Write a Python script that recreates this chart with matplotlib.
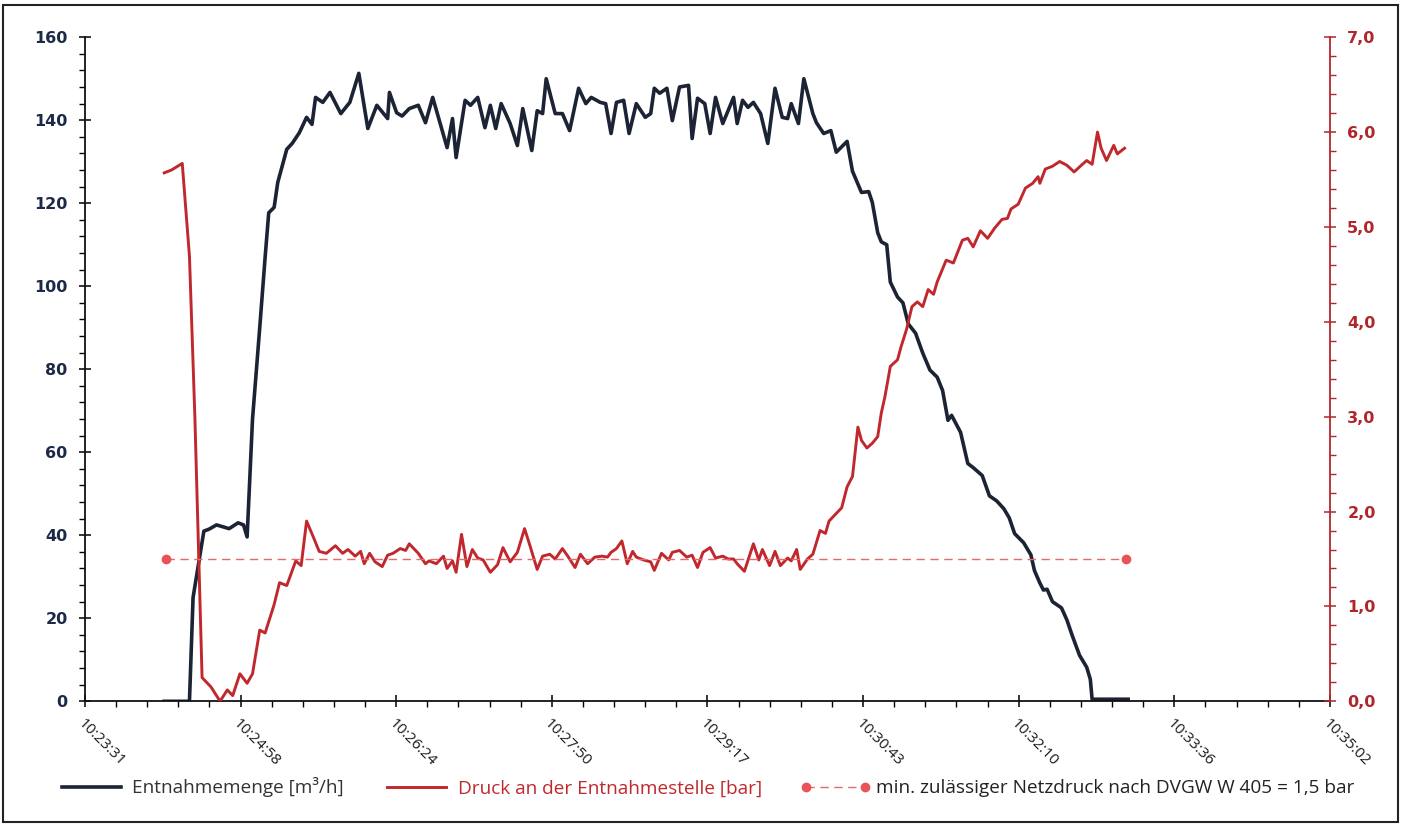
import matplotlib
matplotlib.use("Agg")
import matplotlib.pyplot as plt
from matplotlib.ticker import AutoMinorLocator, FixedLocator, FuncFormatter
from matplotlib.patches import Rectangle

# time in seconds after 10:23:31 (start of the time axis)
t_flow = [44, 58, 60, 66, 69, 73, 77, 80, 85, 88, 90, 93, 97, 100, 102, 105, 107,
          112, 115, 119, 123, 126, 128, 132, 136, 142, 147, 152, 157, 162, 168, 169,
          173, 176, 180, 185, 189, 193, 201, 204, 206, 211, 214, 218, 222, 225, 228,
          231, 236, 240, 243, 248, 251, 254, 256, 261, 265, 269, 274, 278, 281, 286,
          289, 292, 295, 299, 302, 306, 311, 314, 316, 319, 323, 326, 330, 335, 337,
          340, 344, 347, 350, 354, 360, 362, 365, 368, 371, 375, 379, 383, 387, 390,
          392, 396, 399, 404, 406, 410, 414, 417, 423, 426, 431, 435, 437, 440, 442,
          445, 447, 451, 454, 457, 461, 465, 469, 473, 476, 479, 481, 486, 490, 493,
          498, 502, 506, 510, 513, 516, 521, 525, 527, 530, 532, 534, 537, 542, 545,
          548, 552, 556, 558, 559, 579]
flow = [0, 0, 25, 41, 41.5, 42.5, 42, 41.6, 43, 42.5, 39.6, 68, 90, 107, 117.7, 119, 125,
        133, 134.4, 137, 140.7, 139, 145.5, 144.3, 146.7, 141.6, 144.3, 151.3, 138, 143.6, 140.4, 146.7,
        141.8, 141, 142.8, 143.6, 139.4, 145.5, 133.4, 140.4, 131, 144.8, 143.6, 145.5, 138.2, 143.6, 138,
        144, 139.2, 133.9, 142.8, 132.7, 142.3, 141.6, 150, 141.6, 141.6, 137.5, 147.7, 144, 145.5, 144.3,
        144, 136.8, 144.3, 144.8, 136.8, 144, 140.7, 141.6, 147.7, 146.5, 147.7, 139.9, 148, 148.4, 135.6,
        145.3, 144, 136.8, 145.5, 139.2, 145.5, 139.2, 144.8, 143.1, 144.3, 141.6, 134.4, 147.7, 140.7, 140.4,
        144, 139.2, 150, 141.6, 139.4, 136.8, 137.5, 132.3, 134.9, 127.7, 122.6, 122.8, 120.2, 112.9, 110.7,
        110, 101, 97.4, 96, 90.9, 88.7, 83.9, 79.8, 78.1, 74.9, 67.7, 68.9, 64.8, 57.3, 56.3,
        54.4, 49.5, 48.3, 46.4, 44.2, 40.4, 38.2, 35.3, 31.5, 28.5, 26.8, 27, 24, 22.5, 19.6,
        15.8, 11.1, 8.2, 5.3, 0.5, 0.5]

t_press = [44, 48, 54, 58, 61, 65, 70, 75, 79, 82, 86, 90, 93, 97, 100, 105, 108, 112,
           117, 120, 123, 127, 130, 134, 139, 143, 146, 150, 153, 155, 158, 161, 165, 168,
           171, 175, 178, 180, 185, 189, 191, 195, 199, 201, 204, 206, 209, 212, 215, 218,
           221, 225, 229, 232, 236, 240, 244, 247, 251, 254, 258, 261, 265, 268, 272, 275,
           279, 283, 287, 290, 292, 295, 298, 301, 304, 306, 310, 314, 316, 320, 324, 326,
           330, 334, 337, 340, 343, 347, 350, 354, 357, 360, 362, 366, 371, 374, 376, 380,
           383, 386, 390, 392, 395, 397, 401, 404, 408, 411, 413, 416, 420, 423, 426, 429,
           431, 434, 437, 440, 442, 444, 447, 451, 453, 456, 459, 462, 465, 468, 471, 473,
           478, 482, 487, 490, 493, 497, 501, 505, 509, 512, 514, 518, 522, 526, 529, 530,
           533, 537, 541, 545, 549, 553, 556, 559, 562, 564, 567, 571, 573, 577]
press = [5.57, 5.6, 5.67, 4.69, 3.0, 0.25, 0.15, 0.0, 0.12, 0.06, 0.29, 0.19, 0.29, 0.75, 0.72, 1.02, 1.25, 1.22,
         1.48, 1.43, 1.9, 1.72, 1.58, 1.56, 1.64, 1.56, 1.6, 1.53, 1.58, 1.45, 1.56, 1.47, 1.42, 1.54,
         1.56, 1.61, 1.59, 1.66, 1.56, 1.45, 1.48, 1.45, 1.53, 1.4, 1.48, 1.36, 1.76, 1.42, 1.6, 1.51,
         1.49, 1.36, 1.44, 1.62, 1.47, 1.57, 1.82, 1.64, 1.39, 1.53, 1.55, 1.5, 1.61, 1.53, 1.41, 1.55,
         1.45, 1.52, 1.53, 1.52, 1.57, 1.61, 1.69, 1.45, 1.58, 1.52, 1.49, 1.47, 1.38, 1.56, 1.49, 1.57,
         1.59, 1.52, 1.54, 1.41, 1.57, 1.62, 1.51, 1.53, 1.5, 1.5, 1.45, 1.37, 1.66, 1.49, 1.6, 1.43,
         1.58, 1.43, 1.51, 1.48, 1.6, 1.39, 1.5, 1.55, 1.8, 1.77, 1.9, 1.96, 2.04, 2.26, 2.37, 2.89,
         2.75, 2.67, 2.72, 2.79, 3.04, 3.21, 3.53, 3.6, 3.74, 3.92, 4.16, 4.21, 4.16, 4.34, 4.29, 4.42,
         4.65, 4.62, 4.86, 4.88, 4.79, 4.96, 4.88, 4.99, 5.08, 5.09, 5.19, 5.24, 5.41, 5.46, 5.53, 5.46,
         5.61, 5.64, 5.69, 5.65, 5.58, 5.65, 5.7, 5.66, 6.0, 5.83, 5.7, 5.86, 5.77, 5.83]

t_limit = [45, 578]
limit = [1.5, 1.5]

x_labels = ["10:23:31", "10:24:58", "10:26:24", "10:27:50", "10:29:17",
            "10:30:43", "10:32:10", "10:33:36", "10:35:02"]
x_span = 691  # 10:23:31 .. 10:35:02

navy = "#1c2a48"
dark_red = "#b0262b"
label_font = ["Open Sans", "DejaVu Sans"]

fig = plt.figure(figsize=(14.02, 8.27), dpi=100)
ax = fig.add_axes([0.0606, 0.152, 0.888, 0.803])
ax2 = ax.twinx()

l1, = ax.plot(t_flow, flow, color="#1b2335", lw=2.6, solid_joinstyle="round")
l2, = ax2.plot(t_press, press, color="#c0282d", lw=2.1, solid_joinstyle="round")
l3, = ax2.plot(t_limit, limit, color="#e8686a", lw=1.0, ls=(0, (6, 4)),
               marker="o", ms=6, mfc="#e85456", mec="#e85456")

ax.set_xlim(0, x_span)
ax.set_ylim(0, 160)
ax2.set_ylim(0, 7)

ax.xaxis.set_major_locator(FixedLocator([x_span * i / 8 for i in range(9)]))
ax.set_xticklabels(x_labels, rotation=-45, ha="left", va="top",
                   rotation_mode="anchor", fontsize=11, family=label_font,
                   color="#1a1a1a")
ax.xaxis.set_minor_locator(AutoMinorLocator(5))
ax.set_yticks(range(0, 161, 20))
ax.yaxis.set_minor_locator(AutoMinorLocator(5))
ax2.set_yticks(range(0, 8))
ax2.yaxis.set_major_formatter(FuncFormatter(lambda v, p: f"{v:.1f}".replace(".", ",")))
ax2.yaxis.set_minor_locator(AutoMinorLocator(5))

ax.spines["top"].set_visible(False)
ax2.spines["top"].set_visible(False)
ax2.spines["left"].set_visible(False)
ax2.spines["bottom"].set_visible(False)
ax.spines["right"].set_visible(False)
for s in ["left", "bottom"]:
    ax.spines[s].set_linewidth(1.3)
    ax.spines[s].set_color("#111111")
ax2.spines["right"].set_color(dark_red)
ax2.spines["right"].set_linewidth(1.3)

ax.tick_params(axis="both", which="major", direction="inout", length=9, width=1.1)
ax.tick_params(axis="both", which="minor", direction="out", length=4, width=1.0)
ax.tick_params(axis="x", pad=6)
ax.tick_params(axis="y", labelsize=11.5, labelcolor=navy, pad=8)
for lb in ax.get_yticklabels():
    lb.set_fontweight("bold")
ax2.tick_params(axis="y", which="major", direction="inout", length=9, width=1.1,
                color=dark_red, labelsize=11.5, labelcolor=dark_red, pad=8)
ax2.tick_params(axis="y", which="minor", direction="out", length=4, width=1.0,
                color=dark_red)
for lb in ax2.get_yticklabels():
    lb.set_fontweight("bold")

leg = fig.legend([l1, l2, l3],
                 ["Entnahmemenge [m³/h]", "Druck an der Entnahmestelle [bar]",
                  "min. zulässiger Netzdruck nach DVGW W 405 = 1,5 bar"],
                 loc="center", bbox_to_anchor=(0.503, 0.048), ncol=3, frameon=False,
                 numpoints=2, handlelength=3.7, handletextpad=0.3, columnspacing=2.0,
                 prop={"family": label_font, "size": 13.7})
for txt, c in zip(leg.get_texts(), ["#333333", "#c0282d", "#222222"]):
    txt.set_color(c)

fig.patches.append(Rectangle((0.002, 0.006), 0.995, 0.988, transform=fig.transFigure,
                             fill=False, edgecolor="#222222", lw=1.5))

fig.savefig("out.png", dpi=100)
